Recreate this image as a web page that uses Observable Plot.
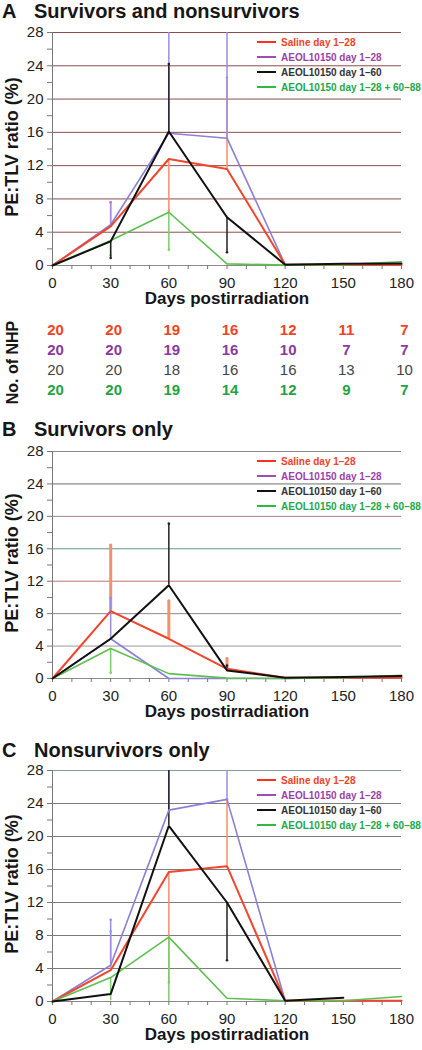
<!DOCTYPE html>
<html><head><meta charset="utf-8">
<script src="https://cdn.jsdelivr.net/npm/d3@7"></script>
<script src="https://cdn.jsdelivr.net/npm/@observablehq/plot@0.6"></script>
<style>
body{margin:0;background:#fff;font-family:"Liberation Sans",Arial,sans-serif;}
#root{position:relative;width:422px;height:1050px;overflow:hidden;background:#fff;}
.abs{position:absolute;left:0;}
.title{position:absolute;font-size:20px;font-weight:bold;line-height:22px;color:#161616;white-space:nowrap;}
.legend{position:absolute;left:257px;font-size:10px;font-weight:bold;line-height:15px;white-space:nowrap;}
.legend .sw{display:inline-block;width:19px;height:2px;vertical-align:middle;margin-right:5px;position:relative;top:-1px;}
</style></head><body><div id="root"></div>
<script>
// ---------- data ----------
const days = [0, 30, 60, 90, 120, 150, 180];
const seriesKeys = ["saline", "aeol28", "aeol60", "aeolBoth"];
const seriesNames = ["Saline day 1–28", "AEOL10150 day 1–28", "AEOL10150 day 1–60", "AEOL10150 day 1–28 + 60–88"];
const yTicks = [0, 4, 8, 12, 16, 20, 24, 28];
const xTicks = [0, 30, 60, 90, 120, 150, 180];

// Panel A: survivors and nonsurvivors
const salineA   = [0, 4.7, 12.8, 11.6, 0.1, 0.1, 0.1];
const aeol28A   = [0, 4.9, 15.9, 15.3, 0.1, 0.1, 0.1];
const aeol60A   = [0, 2.9, 16.1, 5.8, 0.1, 0.2, 0.25];
const aeolBothA = [0, 3.0, 6.4, 0.2, 0.05, 0.1, 0.45];
const salineErrA   = [null, 7.6, 6.6, 22.6, null, null, null];
const aeol28ErrA   = [null, 7.6, 28, 28, null, null, null];
const aeol60ErrA   = [null, 0.9, 24.2, 1.6, null, null, null];
const aeolBothErrA = [null, 1.2, 1.9, null, null, null, null];

// Panel B: survivors only
const salineB   = [0, 8.3, 4.9, 1.2, 0.1, 0.1, 0.1];
const aeol28B   = [0, 4.9, 0, 0, 0, 0.1, 0.1];
const aeol60B   = [0, 4.9, 11.5, 1.0, 0.1, 0.2, 0.3];
const aeolBothB = [0, 3.7, 0.6, 0.05, 0, 0.1, 0.4];
const salineErrB   = [null, 16.5, 9.6, 2.5, null, null, null];
const aeol28ErrB   = [null, 9.9, null, null, null, null, null];
const aeol60ErrB   = [null, null, 19.1, 1.6, null, null, null];
const aeolBothErrB = [null, 0.7, null, null, null, null, null];

// Panel C: nonsurvivors only
const salineC   = [0, 3.8, 15.7, 16.4, 0.1, 0.1, 0.1];
const aeol28C   = [0, 4.4, 23.2, 24.5, 0.1, 0.05, 0.05];
const aeol60C   = [0, 0.9, 21.3, 12.0, 0.1, 0.45, null];
const aeolBothC = [0, 2.9, 7.8, 0.4, 0.1, 0.1, 0.6];
const salineErrC   = [null, 8.5, 2.3, 24.5, null, null, null];
const aeol28ErrC   = [null, 9.9, 28, 28, null, null, null];
const aeol60ErrC   = [null, null, 28, 5.0, null, null, null];
const aeolBothErrC = [null, 0.1, 0, null, null, null, null];

// Number of NHP
const nhpSaline   = [20, 20, 19, 16, 12, 11, 7];
const nhpAeol28   = [20, 20, 19, 16, 10, 7, 7];
const nhpAeol60   = [20, 20, 18, 16, 16, 13, 10];
const nhpAeolBoth = [20, 20, 19, 14, 12, 9, 7];

// ---------- styles ----------
const FONT = '"Liberation Sans", Arial, sans-serif';
const sty = {
  saline:   {line: "#f2452b", lw: 2,   err: "#f5906e", text: "#ef4226", sw: "#ff3020", nhp: "#ef4323", nw: "bold"},
  aeol28:   {line: "#8b80d8", lw: 1.6, err: "#9a8ee0", text: "#9a3fa8", sw: "#a04cb8", nhp: "#8b3a9c", nw: "bold"},
  aeol60:   {line: "#111111", lw: 2,   err: "#222222", text: "#333333", sw: "#111111", nhp: "#444444", nw: "normal"},
  aeolBoth: {line: "#5cbf4f", lw: 1.6, err: "#7ccd6c", text: "#22a84a", sw: "#2dbb3d", nhp: "#1fa344", nw: "bold"}
};
const lineOrder = ["aeol28", "saline", "aeolBoth", "aeol60"];
const errOrder = ["saline", "aeolBoth", "aeol28", "aeol60"];

const root = document.getElementById("root");

function addTitle(letter, text, top) {
  const a = document.createElement("div");
  a.className = "title"; a.style.left = "2px"; a.style.top = top + "px"; a.textContent = letter;
  const b = document.createElement("div");
  b.className = "title"; b.style.left = "34px"; b.style.top = top + "px"; b.textContent = text;
  root.append(a, b);
}

function addLegend(top) {
  const lg = document.createElement("div");
  lg.className = "legend"; lg.style.top = top + "px";
  seriesKeys.forEach((k, i) => {
    const row = document.createElement("div");
    const sw = document.createElement("span");
    sw.className = "sw"; sw.style.background = sty[k].sw;
    const t = document.createElement("span");
    t.textContent = seriesNames[i]; t.style.color = sty[k].text;
    row.append(sw, t);
    lg.append(row);
  });
  root.append(lg);
}

function panel({svgTop, plotH, vals, errs, grid, errW}) {
  const mt = 10, mb = 50;
  const H = mt + plotH + mb;
  const rows = {};
  seriesKeys.forEach((k, si) => {
    rows[k] = days.map((d, i) => ({series: k, day: d, value: vals[si][i], end: errs[si][i]}));
  });
  const marks = [
    Plot.ruleY(yTicks.filter(v => v > 0), {y: d => d, stroke: d => grid(d), strokeWidth: 1}),
    Plot.ruleX([0], {stroke: "#7a7a7a"}),
    Plot.ruleY([0], {stroke: "#8a8a8a"}),
    Plot.axisY(d3.range(0, 29, 2), {tickSize: 5, fill: "none", stroke: "#777"}),
    Plot.axisX(d3.range(0, 181, 10), {tickSize: 4, fill: "none", stroke: "#777"}),
    Plot.text(yTicks, {y: d => d, frameAnchor: "left", dx: -9, textAnchor: "end", fontSize: 15, fill: "#222"}),
    Plot.text(xTicks, {x: d => d, frameAnchor: "bottom", dy: 22, fontSize: 15, fill: "#222"}),
    Plot.text(["Days postirradiation"], {frameAnchor: "bottom", dy: 38, fontSize: 17, fontWeight: "bold", fill: "#161616"}),
    Plot.text(["PE:TLV ratio (%)"], {frameAnchor: "left", dx: -40, dy: -2, rotate: -90, textAnchor: "middle", lineAnchor: "middle", fontSize: 18, fontWeight: "bold", fill: "#161616"})
  ];
  for (const k of errOrder) {
    const e = rows[k].filter(d => d.end != null && d.value != null);
    marks.push(Plot.ruleX(e, {x: "day", y1: "value", y2: "end", stroke: sty[k].err, strokeWidth: (errW && errW[k]) || 1.5}));
    marks.push(Plot.dot(e.filter(d => d.end < 28 && d.end > 0.2), {x: "day", y: "end", r: 1.3, fill: sty[k].err, stroke: "none"}));
  }
  for (const k of lineOrder) {
    marks.push(Plot.line(rows[k], {x: "day", y: "value", stroke: sty[k].line, strokeWidth: sty[k].lw, strokeLinejoin: "miter"}));
  }
  const svg = Plot.plot({
    width: 422, height: H,
    marginLeft: 52, marginRight: 21, marginTop: mt, marginBottom: mb,
    x: {domain: [0, 180]},
    y: {domain: [0, 28]},
    color: {type: "identity"},
    style: {fontFamily: FONT, overflow: "visible", background: "none", color: "#222"},
    marks
  });
  svg.classList.add("abs");
  svg.style.top = svgTop + "px";
  root.append(svg);
}

// Panel A
addTitle("A", "Survivors and nonsurvivors", 0);
panel({
  svgTop: 22, plotH: 233,
  vals: [salineA, aeol28A, aeol60A, aeolBothA],
  errs: [salineErrA, aeol28ErrA, aeol60ErrA, aeolBothErrA],
  grid: () => "#8c4d4d"
});
addLegend(34.5);

// NHP table
{
  const nhp = [nhpSaline, nhpAeol28, nhpAeol60, nhpAeolBoth];
  const marks = seriesKeys.map((k, si) =>
    Plot.text(days.map((d, i) => ({series: k, day: d, n: nhp[si][i]})),
      {x: "day", y: "series", text: d => String(d.n), dx: 3, fontSize: 15, fontWeight: sty[k].nw, fill: sty[k].nhp}));
  marks.push(Plot.text(["No. of NHP"], {frameAnchor: "left", dx: -40, dy: 2, rotate: -90, textAnchor: "middle", lineAnchor: "middle", fontSize: 16, fontWeight: "bold", fill: "#161616"}));
  const svg = Plot.plot({
    width: 422, height: 80, marginLeft: 52, marginRight: 21, marginTop: 0, marginBottom: 0,
    x: {domain: [0, 180], axis: null},
    y: {type: "point", domain: seriesKeys, padding: 0.5, axis: null},
    style: {fontFamily: FONT, overflow: "visible", background: "none"},
    marks
  });
  svg.classList.add("abs");
  svg.style.top = "320px";
  root.append(svg);
}

// Panel B
addTitle("B", "Survivors only", 418);
const gridB = {4: "#9a9a9a", 8: "#8a8a8a", 12: "#c27272", 16: "#5f968f", 20: "#a98080", 24: "#707070", 28: "#8a8a8a"};
panel({
  svgTop: 441, plotH: 227,
  vals: [salineB, aeol28B, aeol60B, aeolBothB],
  errs: [salineErrB, aeol28ErrB, aeol60ErrB, aeolBothErrB],
  grid: d => gridB[d],
  errW: {saline: 3}
});
addLegend(454);

// Panel C
addTitle("C", "Nonsurvivors only", 739);
panel({
  svgTop: 760, plotH: 231,
  vals: [salineC, aeol28C, aeol60C, aeolBothC],
  errs: [salineErrC, aeol28ErrC, aeol60ErrC, aeolBothErrC],
  grid: d => d === 28 ? "#8898a8" : "#7c7c7c"
});
addLegend(773);
</script>
</body></html>
